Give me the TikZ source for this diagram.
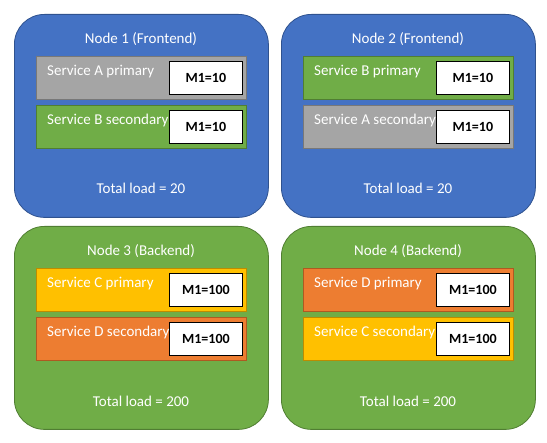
\documentclass[tikz,border=0pt]{standalone}
\usepackage{fontspec}
\setmainfont{Carlito}
\usetikzlibrary{positioning}
\definecolor{nodeblue}{HTML}{4472C4}
\definecolor{blueline}{HTML}{2F528F}
\definecolor{nodegreen}{HTML}{70AD47}
\definecolor{greenline}{HTML}{507E32}
\definecolor{svcgray}{HTML}{A5A5A5}
\definecolor{grayline}{HTML}{787878}
\definecolor{svcorange}{HTML}{ED7D31}
\definecolor{orangeline}{HTML}{AE5A21}
\definecolor{svcgold}{HTML}{FFC000}
\definecolor{goldline}{HTML}{BC8C00}
\begin{document}
\begin{tikzpicture}[
        x=1pt, y=-1pt,
        every node/.style={
            font=\fontsize{15}{18}\selectfont,
            inner sep=0pt},
        server/.style={
            rounded corners=30pt,
            line width=0.8pt,
            minimum width=254pt,
            minimum height=203pt,
            anchor=north west},
        service/.style={
            line width=0.8pt,
            minimum width=210pt,
            minimum height=43pt,
            anchor=north west},
        metric/.style={
            draw=black,
            fill=white,
            line width=0.8pt,
            minimum width=73pt,
            minimum height=33pt,
            anchor=east,
            font=\fontsize{14}{17}\selectfont\bfseries},
        caption/.style={text=white}]
        \useasboundingbox (0,0) rectangle (547,443);

        % servers
        \node[server, fill=nodeblue, draw=blueline] (N1) at (14,14) {};
        \node[server, fill=nodeblue, draw=blueline] (N2) at (281,14) {};
        \node[server, fill=nodegreen, draw=greenline] (N3) at (14,226) {};
        \node[server, fill=nodegreen, draw=greenline] (N4) at (281,226) {};

        \node[caption] (T1) at (141,39) {Node 1 (Frontend)};
        \node[caption] (T2) at (408,39) {Node 2 (Frontend)};
        \node[caption] (T3) at (141,251) {Node 3 (Backend)};
        \node[caption] (T4) at (408,251) {Node 4 (Backend)};

        \node[caption] (L1) at (141,188) {Total load = 20};
        \node[caption] (L2) at (408,188) {Total load = 20};
        \node[caption] (L3) at (141,401) {Total load = 200};
        \node[caption] (L4) at (408,401) {Total load = 200};

        % services
        \node[service, fill=svcgray, draw=grayline] (S1a) at (36,56) {};
        \node[service, fill=nodegreen, draw=greenline] (S1b) at (36,105) {};
        \node[service, fill=nodegreen, draw=greenline] (S2a) at (303,56) {};
        \node[service, fill=svcgray, draw=grayline] (S2b) at (303,105) {};
        \node[service, fill=svcgold, draw=goldline] (S3a) at (36,268) {};
        \node[service, fill=svcorange, draw=orangeline] (S3b) at (36,317) {};
        \node[service, fill=svcorange, draw=orangeline] (S4a) at (303,268) {};
        \node[service, fill=svcgold, draw=goldline] (S4b) at (303,317) {};

        \node[caption, anchor=base west] (P1a) at ([xshift=11pt,yshift=-20pt]S1a.north west) {Service A primary};
        \node[caption, anchor=base west] (P1b) at ([xshift=11pt,yshift=-20pt]S1b.north west) {Service B secondary};
        \node[caption, anchor=base west] (P2a) at ([xshift=11pt,yshift=-20pt]S2a.north west) {Service B primary};
        \node[caption, anchor=base west] (P2b) at ([xshift=11pt,yshift=-20pt]S2b.north west) {Service A secondary};
        \node[caption, anchor=base west] (P3a) at ([xshift=11pt,yshift=-20pt]S3a.north west) {Service C primary};
        \node[caption, anchor=base west] (P3b) at ([xshift=11pt,yshift=-20pt]S3b.north west) {Service D secondary};
        \node[caption, anchor=base west] (P4a) at ([xshift=11pt,yshift=-20pt]S4a.north west) {Service D primary};
        \node[caption, anchor=base west] (P4b) at ([xshift=11pt,yshift=-20pt]S4b.north west) {Service C secondary};

        % metrics
        \node[metric, left=4pt of S1a.east] (M1a) {M1=10};
        \node[metric, left=4pt of S1b.east] (M1b) {M1=10};
        \node[metric, left=4pt of S2a.east] (M2a) {M1=10};
        \node[metric, left=4pt of S2b.east] (M2b) {M1=10};
        \node[metric, left=4pt of S3a.east] (M3a) {M1=100};
        \node[metric, left=4pt of S3b.east] (M3b) {M1=100};
        \node[metric, left=4pt of S4a.east] (M4a) {M1=100};
        \node[metric, left=4pt of S4b.east] (M4b) {M1=100};
    \end{tikzpicture}
\end{document}
